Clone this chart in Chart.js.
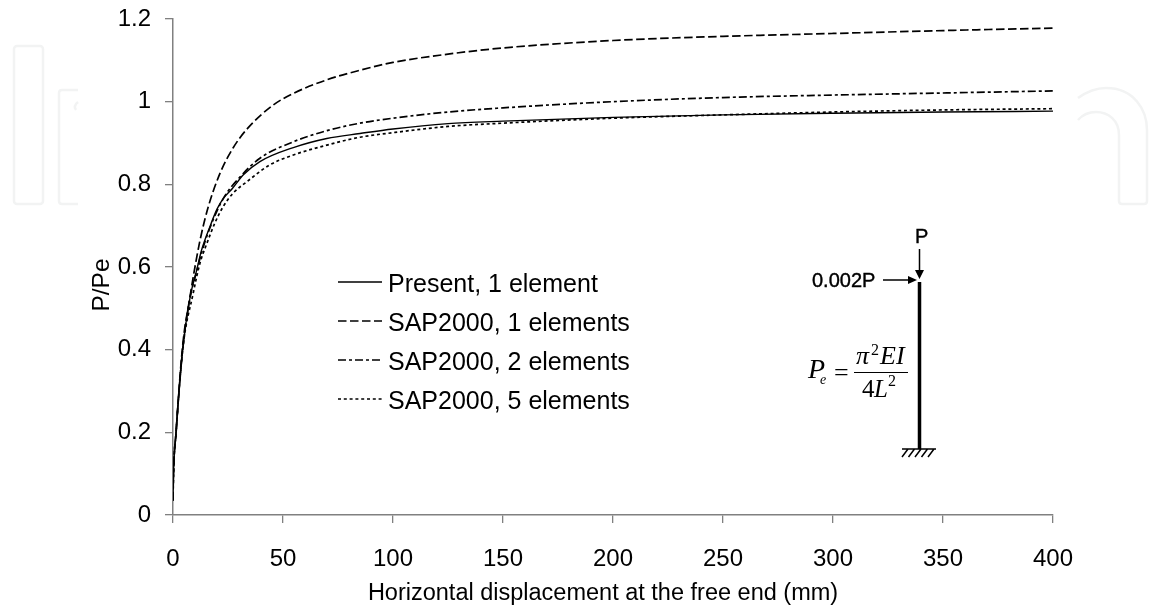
<!DOCTYPE html>
<html>
<head>
<meta charset="utf-8">
<title>P/Pe against horizontal displacement</title>
<script src="https://cdn.jsdelivr.net/npm/chart.js@4/dist/chart.umd.min.js"></script>
<style>
    html, body { margin: 0; padding: 0; background: #fff; }
    canvas { display: block; }
</style>
</head>
<body>
<canvas id="chart" width="1151" height="614"></canvas>
<script>
// values
const seriesNames = ["Present, 1 element", "SAP2000, 1 elements", "SAP2000, 2 elements", "SAP2000, 5 elements"];

const presentX = [0, 0.15, 1.4, 4.4, 7.7, 10.8, 13, 16.8, 20, 22.9, 27, 32, 39.5, 54.7, 69.9, 85, 100, 125, 150, 200, 250, 300, 350, 400];
const presentY = [0.035, 0.085, 0.2, 0.4, 0.525, 0.593, 0.641, 0.698, 0.74, 0.766, 0.79, 0.823, 0.855, 0.889, 0.911, 0.923, 0.934, 0.947, 0.953, 0.962, 0.968, 0.972, 0.975, 0.977];

const sap1X = [0, 0.15, 1.4, 4.4, 7.7, 9.2, 12.3, 16, 21.4, 27.3, 34, 45.6, 54.7, 70, 85, 100, 125, 150, 200, 250, 300, 350, 400];
const sap1Y = [0.035, 0.085, 0.2, 0.41, 0.527, 0.576, 0.665, 0.745, 0.827, 0.888, 0.936, 0.992, 1.02, 1.053, 1.076, 1.095, 1.115, 1.13, 1.148, 1.158, 1.165, 1.172, 1.178];

const sap2X = [0, 0.15, 1.4, 4.4, 7.7, 10.8, 13, 16.8, 22.9, 30.5, 39.5, 54.7, 70, 85, 100, 125, 150, 200, 250, 300, 350, 400];
const sap2Y = [0.035, 0.085, 0.2, 0.4, 0.525, 0.59, 0.635, 0.695, 0.766, 0.818, 0.863, 0.903, 0.93, 0.948, 0.96, 0.975, 0.985, 1.0, 1.01, 1.016, 1.021, 1.026];

const sap5X = [0, 0.15, 1.4, 4.4, 9.2, 12.3, 15.4, 19, 22.8, 27.4, 33.5, 44, 54.7, 70, 85, 100, 125, 150, 200, 250, 300, 350, 400];
const sap5Y = [0.035, 0.085, 0.2, 0.4, 0.537, 0.61, 0.657, 0.706, 0.746, 0.779, 0.806, 0.847, 0.871, 0.895, 0.914, 0.925, 0.94, 0.948, 0.96, 0.968, 0.975, 0.98, 0.983];

const xTicks = [0, 50, 100, 150, 200, 250, 300, 350, 400];
const yTicks = [0, 0.2, 0.4, 0.6, 0.8, 1, 1.2];

const xTitle = "Horizontal displacement at the free end (mm)";
const yTitle = "P/Pe";

const lineDashes = [[], [8.5, 3.5], [8, 3, 3, 3], [3, 2.8]];
const lineWidths = [1.4, 1.7, 1.7, 1.7];

const FONT = "'Liberation Sans', Arial, sans-serif";
const SERIF = "'Liberation Serif', 'Times New Roman', serif";

function toPoints(xs, ys) {
    return xs.map((x, i) => ({ x: x, y: ys[i] }));
}

// faint publisher watermark behind the plot
const watermark = {
    id: "watermark",
    beforeDraw(chart) {
        const ctx = chart.ctx;
        ctx.save();
        ctx.fillStyle = "#fff";
        ctx.fillRect(0, 0, chart.width, chart.height);
        ctx.strokeStyle = "#f2f3f3";
        ctx.lineWidth = 2.5;
        ctx.beginPath();
        ctx.roundRect(14, 46, 29, 158, 3);
        ctx.stroke();
        ctx.beginPath();
        ctx.moveTo(78, 90);
        ctx.lineTo(62, 90);
        ctx.quadraticCurveTo(59, 90, 59, 93);
        ctx.lineTo(59, 201);
        ctx.quadraticCurveTo(59, 204, 62, 204);
        ctx.lineTo(78, 204);
        ctx.moveTo(78, 102);
        ctx.quadraticCurveTo(73, 106, 76, 110);
        ctx.stroke();
        ctx.beginPath();
        ctx.moveTo(1078, 98);
        ctx.quadraticCurveTo(1092, 88, 1106, 88);
        ctx.bezierCurveTo(1134, 88, 1147, 110, 1147, 130);
        ctx.lineTo(1147, 201);
        ctx.quadraticCurveTo(1147, 204, 1144, 204);
        ctx.lineTo(1122, 204);
        ctx.quadraticCurveTo(1119, 204, 1119, 201);
        ctx.lineTo(1119, 135);
        ctx.bezierCurveTo(1119, 120, 1108, 112, 1096, 112);
        ctx.quadraticCurveTo(1085, 112, 1078, 120);
        ctx.stroke();
        ctx.restore();
    }
};

// axis titles sit off centre in the reference, so they are placed by hand
const axisTitles = {
    id: "axisTitles",
    afterDraw(chart) {
        const ctx = chart.ctx;
        ctx.save();
        ctx.font = "23.5px " + FONT;
        ctx.fillStyle = "#000";
        ctx.textAlign = "center";
        ctx.textBaseline = "alphabetic";
        ctx.fillText(xTitle, 603, 600);
        ctx.translate(109, 285);
        ctx.rotate(-Math.PI / 2);
        ctx.font = "24.5px " + FONT;
        ctx.fillText(yTitle, 0, 0);
        ctx.restore();
    }
};

// legend sits inside the plot, with long line samples
const insideLegend = {
    id: "insideLegend",
    afterDatasetsDraw(chart) {
        const ctx = chart.ctx;
        const rowY = [282, 321, 360, 399];
        ctx.save();
        ctx.font = "25px " + FONT;
        ctx.fillStyle = "#000";
        ctx.strokeStyle = "#000";
        ctx.textBaseline = "alphabetic";
        seriesNames.forEach((name, i) => {
            ctx.lineWidth = 1.3;
            ctx.setLineDash(lineDashes[i]);
            ctx.beginPath();
            ctx.moveTo(338, rowY[i]);
            ctx.lineTo(382, rowY[i]);
            ctx.stroke();
            ctx.fillText(name, 388, rowY[i] + 10);
        });
        ctx.restore();
    }
};

// column sketch and Euler load formula
const columnSketch = {
    id: "columnSketch",
    afterDraw(chart) {
        const ctx = chart.ctx;
        ctx.save();
        ctx.strokeStyle = "#000";
        ctx.fillStyle = "#000";

        ctx.lineWidth = 3.5;
        ctx.beginPath();
        ctx.moveTo(919.5, 282);
        ctx.lineTo(919.5, 449);
        ctx.stroke();

        ctx.lineWidth = 1.5;
        ctx.beginPath();
        ctx.moveTo(902, 449);
        ctx.lineTo(936, 449);
        for (let hx = 908; hx <= 936; hx += 6.5) {
            ctx.moveTo(hx, 449);
            ctx.lineTo(hx - 6, 457);
        }
        ctx.moveTo(919.5, 249);
        ctx.lineTo(919.5, 272);
        ctx.moveTo(883, 280);
        ctx.lineTo(910, 280);
        ctx.stroke();

        ctx.beginPath();
        ctx.moveTo(915, 270);
        ctx.lineTo(924, 270);
        ctx.lineTo(919.5, 279);
        ctx.closePath();
        ctx.moveTo(908, 276);
        ctx.lineTo(917, 280);
        ctx.lineTo(908, 284);
        ctx.closePath();
        ctx.fill();

        ctx.lineWidth = 1;
        ctx.beginPath();
        ctx.moveTo(854, 372.5);
        ctx.lineTo(908, 372.5);
        ctx.stroke();

        ctx.textBaseline = "alphabetic";
        ctx.font = "20px " + FONT;
        ctx.lineWidth = 0.4;
        ctx.fillText("P", 915, 243);
        ctx.strokeText("P", 915, 243);
        ctx.fillText("0.002P", 812, 287);
        ctx.strokeText("0.002P", 812, 287);

        ctx.font = "italic 28px " + SERIF;
        ctx.fillText("P", 808, 378);
        ctx.font = "italic 14px " + SERIF;
        ctx.fillText("e", 820, 384);
        ctx.font = "26px " + SERIF;
        ctx.fillText("=", 834, 381);
        ctx.font = "italic 26px " + SERIF;
        ctx.fillText("π", 856, 364);
        ctx.fillText("EI", 880, 364);
        ctx.font = "16px " + SERIF;
        ctx.fillText("2", 871, 355);
        ctx.font = "25px " + SERIF;
        ctx.fillText("4", 862, 397);
        ctx.font = "italic 25px " + SERIF;
        ctx.fillText("L", 874, 397);
        ctx.font = "16px " + SERIF;
        ctx.fillText("2", 888, 386);
        ctx.restore();
    }
};

new Chart(document.getElementById("chart"), {
    type: "line",
    data: {
        datasets: [
            toPoints(presentX, presentY),
            toPoints(sap1X, sap1Y),
            toPoints(sap2X, sap2Y),
            toPoints(sap5X, sap5Y)
        ].map((points, i) => ({
            label: seriesNames[i],
            data: points,
            borderColor: "#000",
            borderWidth: lineWidths[i],
            borderDash: lineDashes[i],
            pointRadius: 0,
            cubicInterpolationMode: "monotone",
            fill: false
        }))
    },
    options: {
        responsive: false,
        animation: false,
        layout: { padding: { top: 19, right: 98, left: 0, bottom: 0 } },
        plugins: {
            legend: { display: false },
            tooltip: { enabled: false }
        },
        scales: {
            x: {
                type: "linear",
                min: 0,
                max: 400,
                afterBuildTicks: scale => { scale.ticks = xTicks.map(v => ({ value: v })); },
                afterFit: scale => {
                    scale.height = 99;
                    scale.paddingLeft = 0;
                    scale.paddingRight = 0;
                },
                grid: { drawOnChartArea: false, drawTicks: true, tickLength: 8, color: "#808080", lineWidth: 1.3 },
                border: { color: "#808080", width: 1.5 },
                ticks: {
                    color: "#000",
                    padding: 22,
                    maxRotation: 0,
                    autoSkip: false,
                    font: { family: FONT, size: 24 }
                }
            },
            y: {
                min: 0,
                max: 1.2,
                afterBuildTicks: scale => { scale.ticks = yTicks.map(v => ({ value: v })); },
                afterFit: scale => {
                    scale.width = 173;
                    scale.paddingTop = 0;
                    scale.paddingBottom = 0;
                },
                grid: { drawOnChartArea: false, drawTicks: true, tickLength: 8, color: "#808080", lineWidth: 1.3 },
                border: { color: "#808080", width: 1.5 },
                ticks: {
                    color: "#000",
                    padding: 14,
                    autoSkip: false,
                    callback: value => String(value),
                    font: { family: FONT, size: 24 }
                }
            }
        }
    },
    plugins: [watermark, insideLegend, columnSketch, axisTitles]
});
</script>
</body>
</html>
